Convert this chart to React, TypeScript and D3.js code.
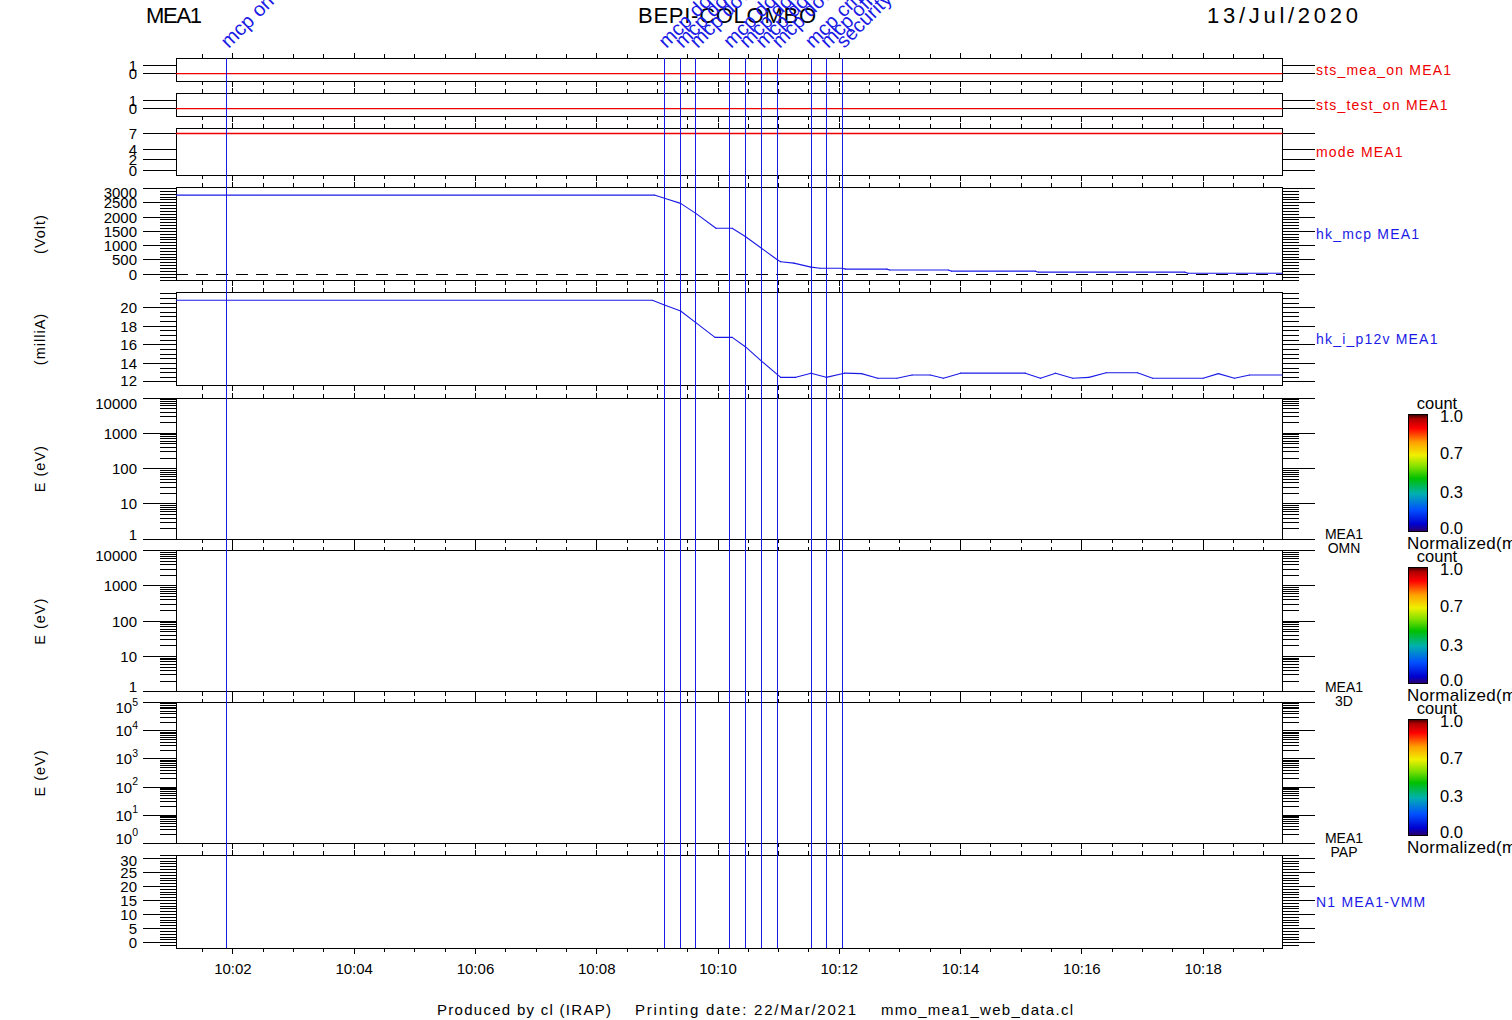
import React from 'react';
import * as d3 from 'd3';

// ---------------- data ----------------
const DAY = '2020-07-13';
const t = (s: string) => new Date(`${DAY}T${s}Z`);

const timeRange = ['10:01:04', '10:19:18'];
const xTickLabels = ['10:02', '10:04', '10:06', '10:08', '10:10', '10:12', '10:14', '10:16', '10:18'];

const eventTimes = ['10:01:54', '10:09:07', '10:09:23', '10:09:38', '10:10:11', '10:10:27', '10:10:43', '10:10:59', '10:11:32', '10:11:47', '10:12:03'];
const eventLabels = ['mcp on', 'mcp down', 'mcp down', 'mcp down', 'mcp down', 'mcp down', 'mcp down', 'mcp down', 'mcp cmd', 'mcp off', 'security'];

const statusTimes = ['10:01:04', '10:19:18'];
const stsMeaOnValues = [0, 0];
const stsTestOnValues = [0, 0];
const modeValues = [7, 7];

const mcpTimes = ['10:01:04', '10:08:57', '10:09:07', '10:09:23', '10:09:38', '10:09:58', '10:10:14', '10:10:27', '10:10:43', '10:10:59', '10:11:02', '10:11:15', '10:11:32', '10:11:41', '10:12:03', '10:12:06', '10:12:47', '10:12:50', '10:13:48', '10:13:51', '10:15:14', '10:15:17', '10:17:42', '10:17:45', '10:19:18'];
const mcpValues = [2770, 2770, 2660, 2480, 2130, 1610, 1610, 1320, 910, 500, 440, 390, 250, 210, 210, 180, 180, 150, 150, 110, 110, 75, 75, 35, 35];

const p12vTimes = ['10:01:04', '10:08:55', '10:09:07', '10:09:23', '10:09:38', '10:09:57', '10:10:14', '10:10:27', '10:10:43', '10:11:02', '10:11:17', '10:11:32', '10:11:47', '10:12:05', '10:12:22', '10:12:38', '10:12:57', '10:13:12', '10:13:30', '10:13:43', '10:14:00', '10:15:04', '10:15:19', '10:15:34', '10:15:51', '10:16:07', '10:16:24', '10:16:55', '10:17:10', '10:18:00', '10:18:15', '10:18:31', '10:18:46', '10:19:18'];
const p12vValues = [20.8, 20.8, 20.3, 19.65, 18.4, 16.8, 16.8, 15.8, 14.25, 12.5, 12.5, 12.95, 12.5, 12.95, 12.9, 12.4, 12.4, 12.75, 12.75, 12.4, 12.95, 12.95, 12.4, 12.95, 12.4, 12.5, 13.0, 13.0, 12.4, 12.4, 12.9, 12.4, 12.75, 12.75];

const statusTicks = [0, 1];
const modeTicks = [0, 2, 4, 7];
const mcpTicks = [0, 500, 1000, 1500, 2000, 2500, 3000];
const p12vTicks = [12, 14, 16, 18, 20];
const energyTicks = [1, 10, 100, 1000, 10000];
const papExponents = [0, 1, 2, 3, 4, 5];
const vmmTicks = [0, 5, 10, 15, 20, 25, 30];
const colorbarTicks = ['1.0', '0.7', '0.3', '0.0'];

// ---------------- style ----------------
const FONT = "'Liberation Sans', Arial, sans-serif";
const RED = '#ee0000';
const BLUE = '#1a1ae6';
const PL = 176.3;
const PR = 1282;
const LMAJ = 143, LMIN = 160, RMAJ = 1315, RMIN = 1299;

type Series = { times: string[]; values: number[]; color: string; width: number };
type Panel = {
  top: number;
  bottom: number;
  y: any;
  major: number[];
  minor: number[];
  labels: any[];
  rightLabel?: string;
  rightColor?: string;
  yTitle?: string;
  series?: Series[];
  dashedZero?: boolean;
  colorbar?: boolean;
  inst?: [string, string];
};

function logMinor(lo: number, hi: number) {
  const out: number[] = [];
  for (let k = Math.floor(Math.log10(lo)); k <= Math.ceil(Math.log10(hi)); k++) {
    for (let m = 2; m <= 9; m++) {
      const v = m * Math.pow(10, k);
      if (v > lo && v < hi) out.push(v);
    }
  }
  return out;
}

export default function App() {
  const x = d3.scaleUtc().domain([t(timeRange[0]), t(timeRange[1])]).range([PL, PR]);
  const minorT = d3.utcSecond.every(30)!.range(t(timeRange[0]), t(timeRange[1]));
  const majorT = xTickLabels.map((s) => t(s + ':00'));

  const lin = (d: number[], top: number, bottom: number) => d3.scaleLinear().domain(d).range([bottom, top]);
  const lg = (d: number[], top: number, bottom: number) => d3.scaleLog().domain(d).range([bottom, top]);

  const panels: Panel[] = [
    { top: 58.3, bottom: 81.3, y: lin([-1, 2], 58.3, 81.3), major: statusTicks, minor: [], labels: statusTicks.map(String), rightLabel: 'sts_mea_on MEA1', rightColor: RED, series: [{ times: statusTimes, values: stsMeaOnValues, color: RED, width: 1.3 }] },
    { top: 93.3, bottom: 116.3, y: lin([-1, 2], 93.3, 116.3), major: statusTicks, minor: [], labels: statusTicks.map(String), rightLabel: 'sts_test_on MEA1', rightColor: RED, series: [{ times: statusTimes, values: stsTestOnValues, color: RED, width: 1.3 }] },
    { top: 128.3, bottom: 175.3, y: lin([-1, 8], 128.3, 175.3), major: modeTicks, minor: [], labels: modeTicks.map(String), rightLabel: 'mode MEA1', rightColor: RED, series: [{ times: statusTimes, values: modeValues, color: RED, width: 1.3 }] },
    { top: 187.3, bottom: 280.7, y: lin([-224, 3042], 187.3, 280.7), major: mcpTicks, minor: d3.range(-200, 3001, 100), labels: mcpTicks.map(String), rightLabel: 'hk_mcp MEA1', rightColor: BLUE, yTitle: '(Volt)', series: [{ times: mcpTimes, values: mcpValues, color: BLUE, width: 1.1 }], dashedZero: true },
    { top: 292.3, bottom: 385.7, y: lin([11.6, 21.66], 292.3, 385.7), major: p12vTicks, minor: d3.range(12, 21.6, 0.5), labels: p12vTicks.map(String), rightLabel: 'hk_i_p12v MEA1', rightColor: BLUE, yTitle: '(milliA)', series: [{ times: p12vTimes, values: p12vValues, color: BLUE, width: 1.1 }] },
    { top: 398, bottom: 539.3, y: lg([1, 1e4], 398, 539.3), major: energyTicks, minor: logMinor(1, 1e4), labels: energyTicks.map(String), yTitle: 'E (eV)', colorbar: true, inst: ['MEA1', 'OMN'] },
    { top: 550.7, bottom: 691.7, y: lg([1, 1e4], 550.7, 691.7), major: energyTicks, minor: logMinor(1, 1e4), labels: energyTicks.map(String), yTitle: 'E (eV)', colorbar: true, inst: ['MEA1', '3D'] },
    { top: 702.7, bottom: 843.3, y: lg([1, 1e5], 702.7, 843.3), major: papExponents.map((e) => Math.pow(10, e)), minor: logMinor(1, 1e5), labels: papExponents.map((e) => ({ base: '10', exp: String(e) })), yTitle: 'E (eV)', colorbar: true, inst: ['MEA1', 'PAP'] },
    { top: 855, bottom: 948, y: lin([-1.9, 31.2], 855, 948), major: vmmTicks, minor: d3.range(-1, 32, 1), labels: vmmTicks.map(String), rightLabel: 'N1 MEA1-VMM', rightColor: BLUE },
  ];

  return (
    <svg width={1512} height={1020} style={{ position: 'absolute', left: 0, top: 0, background: '#fff' }} fontFamily={FONT}>
      <defs>
        <linearGradient id="cbar" x1="0" y1="1" x2="0" y2="0">
          <stop offset="0" stopColor="#2a0070" />
          <stop offset="0.06" stopColor="#0000d0" />
          <stop offset="0.18" stopColor="#0050ff" />
          <stop offset="0.32" stopColor="#00b0b0" />
          <stop offset="0.45" stopColor="#00c000" />
          <stop offset="0.55" stopColor="#80e000" />
          <stop offset="0.65" stopColor="#f0f000" />
          <stop offset="0.76" stopColor="#ffa000" />
          <stop offset="0.88" stopColor="#ff0000" />
          <stop offset="0.96" stopColor="#b00000" />
          <stop offset="1" stopColor="#300000" />
        </linearGradient>
      </defs>
      <rect x={0} y={0} width={1512} height={1020} fill="#fff" />

      {/* header */}
      <text x={146} y={23} fontSize={22} textLength={56} lengthAdjust="spacing">MEA1</text>
      <text x={638} y={23} fontSize={22} textLength={178} lengthAdjust="spacing">BEPI-COLOMBO</text>
      <text x={1207} y={23} fontSize={22} textLength={151} lengthAdjust="spacing">13/Jul/2020</text>

      {panels.map((p, i) => {
        const cy = (p.top + p.bottom) / 2;
        return (
          <g key={i}>
            <g shapeRendering="crispEdges" stroke="#000" strokeWidth={1}>
              <rect x={PL} y={p.top} width={PR - PL} height={p.bottom - p.top} fill="none" />
              {p.major.map((v, j) => (
                <g key={'M' + j}>
                  <line x1={LMAJ} x2={PL} y1={p.y(v)} y2={p.y(v)} />
                  <line x1={PR} x2={RMAJ} y1={p.y(v)} y2={p.y(v)} />
                </g>
              ))}
              {p.minor.map((v, j) => (
                <g key={'m' + j}>
                  <line x1={LMIN} x2={PL} y1={p.y(v)} y2={p.y(v)} />
                  <line x1={PR} x2={RMIN} y1={p.y(v)} y2={p.y(v)} />
                </g>
              ))}
              {minorT.map((d, j) => (
                <g key={'t' + j}>
                  <line x1={x(d)} x2={x(d)} y1={p.top} y2={p.top - 4} />
                  <line x1={x(d)} x2={x(d)} y1={p.bottom} y2={p.bottom + 4} />
                </g>
              ))}
              {majorT.map((d, j) => (
                <g key={'T' + j}>
                  <line x1={x(d)} x2={x(d)} y1={p.top} y2={p.top - 5.5} />
                  <line x1={x(d)} x2={x(d)} y1={p.bottom} y2={p.bottom + 5.5} />
                </g>
              ))}
              {p.dashedZero && <line x1={PL} x2={PR} y1={p.y(0)} y2={p.y(0)} strokeDasharray="12,8" />}
            </g>
            {p.labels.map((lab, j) => {
              const yy = Math.min(Math.max(p.y(p.major[j]), p.top + 5), p.bottom - 5);
              if (typeof lab === 'string') {
                return (
                  <text key={'l' + j} x={137} y={yy} fontSize={15} textAnchor="end" dominantBaseline="central">{lab}</text>
                );
              }
              return (
                <text key={'l' + j} x={138} y={yy + 5.5} fontSize={15} textAnchor="end">
                  {lab.base}
                  <tspan dy={-7.5} fontSize={10.5}>{lab.exp}</tspan>
                </text>
              );
            })}
            {p.series && p.series.map((s, j) => (
              <g key={'s' + j} stroke={s.color} strokeWidth={s.width} fill="none">
                {s.times.slice(1).map((tt, k) => (
                  <line key={k} x1={x(t(s.times[k]))} y1={p.y(s.values[k])} x2={x(t(tt))} y2={p.y(s.values[k + 1])} strokeLinecap="round" />
                ))}
              </g>
            ))}
            {p.rightLabel && (
              <text x={1316} y={cy} fontSize={14} letterSpacing={1.2} fill={p.rightColor} dominantBaseline="central">{p.rightLabel}</text>
            )}
            {p.yTitle && (
              <text transform={`translate(40,${cy}) rotate(-90)`} fontSize={14.5} letterSpacing={1} textAnchor="middle" dominantBaseline="central">{p.yTitle}</text>
            )}
            {p.inst && (
              <g fontSize={14} textAnchor="middle">
                <text x={1344} y={p.bottom - 5} dominantBaseline="central">{p.inst[0]}</text>
                <text x={1344} y={p.bottom + 9} dominantBaseline="central">{p.inst[1]}</text>
              </g>
            )}
            {p.colorbar && (() => {
              const bt = p.top + 16.3;
              const bb = p.bottom - 8.3;
              const cs = d3.scaleLinear().domain([0, colorbarTicks.length - 1]).range([bt, bb]);
              return (
                <g>
                  <rect x={1408} y={bt} width={19.5} height={bb - bt} fill="url(#cbar)" stroke="#000" strokeWidth={1} shapeRendering="crispEdges" />
                  <text x={1437} y={bt - 11} fontSize={16.5} textAnchor="middle" dominantBaseline="central">count</text>
                  {colorbarTicks.map((c, j) => (
                    <text key={j} x={1440} y={cs(j) + (j === 0 ? 2 : j === colorbarTicks.length - 1 ? -3 : 0)} fontSize={16.5} dominantBaseline="central">{c}</text>
                  ))}
                  <text x={1407} y={bb + 12} fontSize={17} letterSpacing={0.3} dominantBaseline="central">Normalized(max)</text>
                </g>
              );
            })()}
          </g>
        );
      })}

      {/* bottom time labels */}
      {xTickLabels.map((s, j) => (
        <text key={j} x={x(t(s + ':00'))} y={968} fontSize={15} textAnchor="middle" dominantBaseline="central">{s}</text>
      ))}

      {/* event lines */}
      <g>
        {eventTimes.map((e, j) => (
          <line key={j} x1={x(t(e))} x2={x(t(e))} y1={58.3} y2={948} stroke={BLUE} strokeWidth={1} shapeRendering="crispEdges" />
        ))}
        {eventTimes.map((e, j) => (
          <text key={'e' + j} transform={`translate(${x(t(e)) + 2},49) rotate(-45)`} fontSize={20} fill={BLUE}>{eventLabels[j]}</text>
        ))}
      </g>

      {/* footer */}
      <g fontSize={15}>
        <text x={437} y={1009} dominantBaseline="central" textLength={174} lengthAdjust="spacing">Produced by cl (IRAP)</text>
        <text x={635} y={1009} dominantBaseline="central" textLength={221} lengthAdjust="spacing">Printing date: 22/Mar/2021</text>
        <text x={881} y={1009} dominantBaseline="central" textLength={192} lengthAdjust="spacing">mmo_mea1_web_data.cl</text>
      </g>
    </svg>
  );
}
